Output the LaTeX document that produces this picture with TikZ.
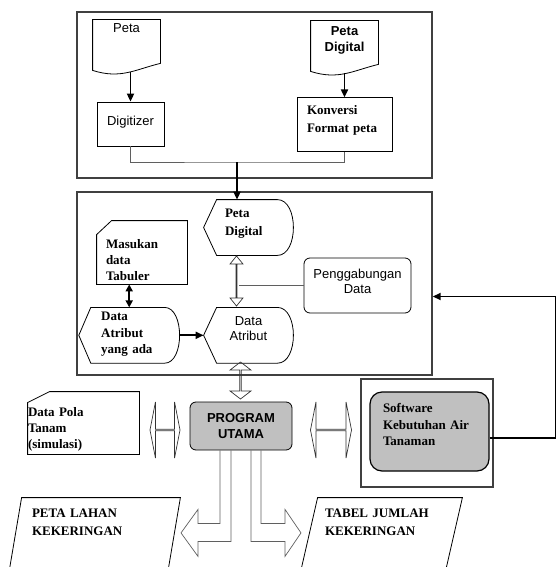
\documentclass[tikz,border=0pt]{standalone}
\usepackage{fontspec}
\setmainfont{Liberation Serif}
\setsansfont{Liberation Sans}
\usetikzlibrary{arrows.meta, positioning, calc, shapes.arrows}
\definecolor{boxgray}{RGB}{192,192,192}
\definecolor{linegray}{RGB}{95,95,95}

% document shape (wavy bottom)
\newcommand{\docpath}[1]{%
  \draw (#1.north west) -- (#1.north east) -- (#1.south east)
    .. controls ([shift={(-25,6)}]#1.south east) and ([shift={(28,16)}]#1.south west)
    .. ([shift={(0,7)}]#1.south west) -- cycle;}
% card shape (cut corner)
\newcommand{\cardpath}[3]{%
  \draw ([shift={(#2,0)}]#1.north west) -- (#1.north east) -- (#1.south east)
    -- (#1.south west) -- ([shift={(0,#3)}]#1.north west) -- cycle;}
% display shape
\newcommand{\disppath}[3]{%
  \draw ([shift={(#2,0)}]#1.north west) -- ([shift={(-#3,0)}]#1.north east)
    .. controls ([shift={(-#3/3,0)}]#1.north east) and ([shift={(0,-14)}]#1.east) .. (#1.east)
    .. controls ([shift={(0,14)}]#1.east) and ([shift={(-#3/3,0)}]#1.south east)
    .. ([shift={(-#3,0)}]#1.south east) -- ([shift={(#2,0)}]#1.south west) -- (#1.west) -- cycle;}

\begin{document}
\begin{tikzpicture}[x=1pt, y=-1pt, line width=0.8pt,
    serif/.style={font=\fontsize{13}{#1}\selectfont\bfseries, align=left},
    serif/.default=16,
    sans/.style={font=\fontsize{13}{#1}\selectfont\sffamily, align=center},
    sans/.default=15.5,
    sansb/.style={font=\fontsize{13}{#1}\selectfont\sffamily\bfseries, align=center},
    sansb/.default=15.5,
    shp/.style={inner sep=0pt, text height=10pt},
    frame/.style={draw=black!75, line width=1.4pt},
    arrow/.style={-{Triangle[length=8pt,width=7pt]}, line width=1.8pt},
    dblarrow/.style={{Triangle[length=7pt,width=7pt]}-{Triangle[length=7pt,width=7pt]}, line width=1.8pt},
    hollow/.style={double arrow, draw=black!80, line width=0.7pt, inner sep=0pt},
    thin/.style={draw=linegray, line width=0.7pt}
  ]
  \useasboundingbox (0,0) rectangle (557,567);

  % containers
  \node[frame, minimum width=355pt, minimum height=166pt] (box1) at (254.5,95) {};
  \node[frame, minimum width=355pt, minimum height=183pt] (box2) at (254.5,283.5) {};

  % top part
  \node[shp, sans, minimum width=67pt, minimum height=43pt, text depth=27pt] (peta) at (126.5,41.5) {Peta};
  \docpath{peta}
  \node[shp, sansb=16, text width=67pt, minimum width=67pt, minimum height=43pt, text depth=23pt] (petadig) at (344.5,42.5) {Peta\\Digital};
  \docpath{petadig}
  \node[shp, sans, draw, minimum width=67pt, minimum height=44pt, text depth=8pt] (digit) at (130.5,124) {Digitizer};
  \node[shp, serif=18, draw, text width=75pt, minimum width=95pt, minimum height=54pt, text depth=30pt,
        below=33pt of petadig] (konv) {Konversi\\Format peta};
  \draw[arrow] ($(peta.south -| digit.north)+(0,9)$) -- (digit.north);
  \draw[arrow] ($(petadig.south)+(0,9)$) -- (konv.north);
  \coordinate (join) at (237,162);
  \draw[thin] (digit.south) |- (join) -| (konv.south);

  % second part
  \node[shp, serif=18, text width=47pt, minimum width=89pt, minimum height=55pt, text depth=31pt] (petadisp) at (248.5,227.5) {Peta\\Digital};
  \disppath{petadisp}{13}{16}
  \draw[arrow] (join) -- (join |- petadisp.north);
  \node[shp, sans=15, text width=80pt, minimum width=89pt, minimum height=55pt, text depth=29pt,
        below=52pt of petadisp] (datatr) {Data\\Atribut};
  \disppath{datatr}{13}{16}
  \node[shp, serif=16.5, text width=56pt, minimum width=100pt, minimum height=55pt, text depth=39pt,
        left=24pt of datatr] (yangada) {Data\\Atribut\\yang ada};
  \disppath{yangada}{12}{15}
  \node[shp, serif, text width=72pt, minimum width=90pt, minimum height=63pt, text depth=19pt] (masukan) at (142,252.5) {Masukan\\data\\Tabuler};
  \cardpath{masukan}{15}{14}
  \node[shp, sans=15, draw, rounded corners=6pt, text width=100pt, minimum width=107pt, minimum height=55pt, text depth=25pt] (gabung) at (357.5,285.5) {Penggabungan\\Data};
  \node[hollow, rotate=90, minimum height=50pt, minimum width=13pt, double arrow head extend=4pt, double arrow tip angle=78] (hd1) at (236.5,281) {};
  \draw[thin] (gabung.west) -- ($(gabung.west -| hd1.center)+(2.5,0)$);
  \draw[dblarrow] (yangada.north) -- (yangada.north |- masukan.south);
  \draw[arrow] (yangada.east) -- (datatr.west);

  % program
  \node[hollow, rotate=90, minimum height=37pt, minimum width=21pt, double arrow head extend=4.5pt, double arrow tip angle=105] (hd2) at (240.5,380.5) {};
  \node[shp, sansb=15.3, draw, fill=boxgray, rounded corners=6pt, text width=100pt, minimum width=102pt, minimum height=48pt, text depth=16.6pt] (prog) at (241,426) {PROGRAM\\UTAMA};
  \node[shp, serif, text width=111pt, minimum width=111pt, minimum height=62pt, text depth=22.6pt] (pola) at (83.5,423) {Data Pola\\Tanam\\(simulasi)};
  \cardpath{pola}{22}{11}
  \node[frame, minimum width=132pt, minimum height=108pt] (swframe) at (427,433) {};
  \node[shp, serif=16.3, draw, fill=boxgray, rounded corners=12pt, line width=1.2pt, text width=93pt, minimum width=119pt, minimum height=79pt, text depth=47.6pt] (software) at (429.5,431.5) {Software\\Kebutuhan Air\\Tanaman};
  \node[hollow, minimum height=30pt, minimum width=56pt, double arrow head extend=14.5pt, double arrow tip angle=158] (hd3) at (165,430) {};
  \node[hollow, minimum height=41pt, minimum width=56pt, double arrow head extend=14pt, double arrow tip angle=158] (hd4) at (331,430) {};
  \coordinate (rt) at (555.5,296.5);
  \draw[arrow] ([yshift=-6.5pt]software.east) -| (rt) -- (rt -| box2.east);

  % outputs
  \draw[thin] ($(prog.south)+(-21,0)$) -- ++(0,73) -- ++(-22,0) -- ++(0,-14) -- ++(-17,23.5)
    -- ++(17,23.5) -- ++(0,-15) -- ++(33,0) -- ++(0,-91);
  \draw[thin] ($(prog.south)+(10,0)$) -- ++(0,91) -- ++(34,0) -- ++(0,15) -- ++(16,-23.5)
    -- ++(-16,-23.5) -- ++(0,14) -- ++(-24,0) -- ++(0,-73);
  \node[shp, serif=18, text width=138pt, minimum width=158pt, minimum height=82pt, text depth=54pt] (lahan) at (101,539) {PETA LAHAN\\KEKERINGAN};
  \draw (lahan.north west) -- (lahan.north east) -- ([xshift=-14pt]lahan.south east) -- ([xshift=-14pt]lahan.south west) -- cycle;
  \node[shp, serif=18, text width=130pt, minimum width=144pt, minimum height=82pt, text depth=54pt] (tabel) at (390,539) {TABEL JUMLAH\\KEKERINGAN};
  \draw (tabel.north west) -- (tabel.north east) -- ([xshift=-19pt]tabel.south east) -- ([xshift=-19pt]tabel.south west) -- cycle;
\end{tikzpicture}
\end{document}
